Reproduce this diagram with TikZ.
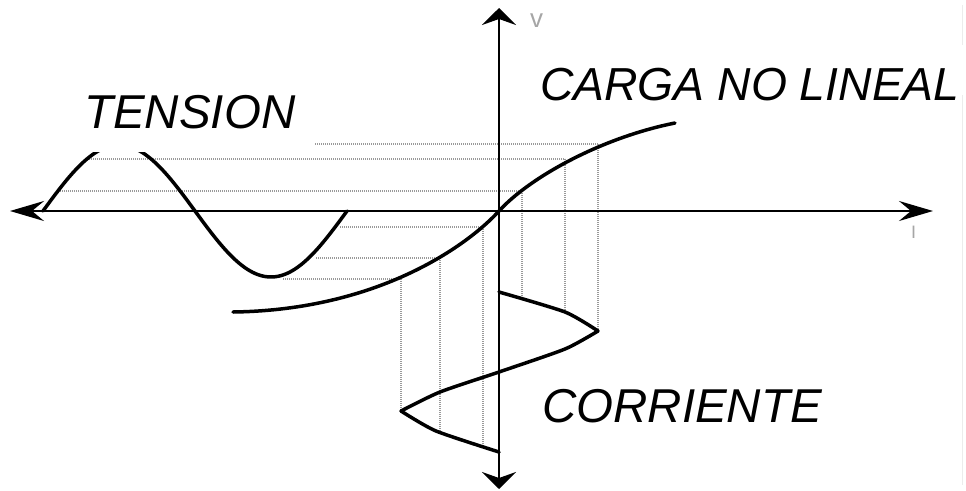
\documentclass[tikz,border=0pt]{standalone}
\usepackage{fontspec}
\setmainfont{Liberation Sans}
\usetikzlibrary{arrows.meta}
\begin{document}
\begin{tikzpicture}[x=1pt,y=-1pt,
  curveline/.style={line width=3.5pt, line join=round, line cap=round},
  axisline/.style={line width=2.5pt},
  guide/.style={gray!80, line width=1.2pt, dash pattern=on 1.2pt off 0.8pt},
  bigtext/.style={font=\fontsize{47.5}{52}\selectfont\itshape, inner sep=0pt, anchor=base west},
  smalltext/.style={text=gray!70, inner sep=0pt, anchor=base west}]
\useasboundingbox (0,0) rectangle (966,490);
% faint border
\draw[gray!15, line width=1pt] (962,5) -- (962,45) (962,95) -- (962,485);
% horizontal guides
\draw[guide] (315,144) -- (598,144);
\draw[guide] (87,159) -- (565,159);
\draw[guide] (60,191) -- (522,191);
\draw[guide] (340,227) -- (483,227);
\draw[guide] (316,258) -- (440,258);
\draw[guide] (283,279) -- (401,279);
% vertical guides
\draw[guide] (598,144) -- (598,331);
\draw[guide] (565,159) -- (565,312);
\draw[guide] (522,191) -- (522,299);
\draw[guide] (483,227) -- (483,446);
\draw[guide] (440,258) -- (440,432);
\draw[guide] (401,279) -- (401,411);
% axes
\draw[axisline, {Stealth[length=34pt,width=20pt,inset=12pt]}-{Stealth[length=34pt,width=20pt,inset=12pt]}] (10,211) -- (933,211);
\draw[axisline, {Stealth[length=17pt,width=34pt,inset=6pt]}-{Stealth[length=17pt,width=34pt,inset=6pt]}] (499,8) -- (499,489);
% voltage sine (top clipped)
\begin{scope}
\clip (0,152) rectangle (966,490);
\draw[curveline] plot[domain=43:347, samples=120, smooth] (\x, {211-66*sin((\x-43)/152*180)});
\end{scope}
% non-linear load curve
\coordinate (o) at (499,211);
\draw[curveline] (233,312) .. controls (380,310) and (469,244) .. (o)
  .. controls (529,178) and (600,138) .. (675,123);
% current waveform
\draw[curveline] plot[smooth, tension=0.4] coordinates {(499,292) (565,312) (598,331)};
\draw[curveline] plot[smooth, tension=0.4] coordinates {(598,331) (565,349) (499,372) (440,392) (401,411)};
\draw[curveline] plot[smooth, tension=0.4] coordinates {(401,411) (436,431) (499,452)};
% labels
\node[bigtext] (tension) at (84,128) {TENSION};
\node[bigtext, font=\fontsize{46.3}{50}\selectfont\itshape] (carga) at (540,100) {CARGA NO LINEAL};
\node[bigtext] (corriente) at (542,422) {CORRIENTE};
\node[smalltext, font=\fontsize{26}{26}\selectfont] (vlab) at (530,27) {v};
\node[smalltext, font=\fontsize{18}{18}\selectfont] (ilab) at (911,238) {I};
\end{tikzpicture}
\end{document}
